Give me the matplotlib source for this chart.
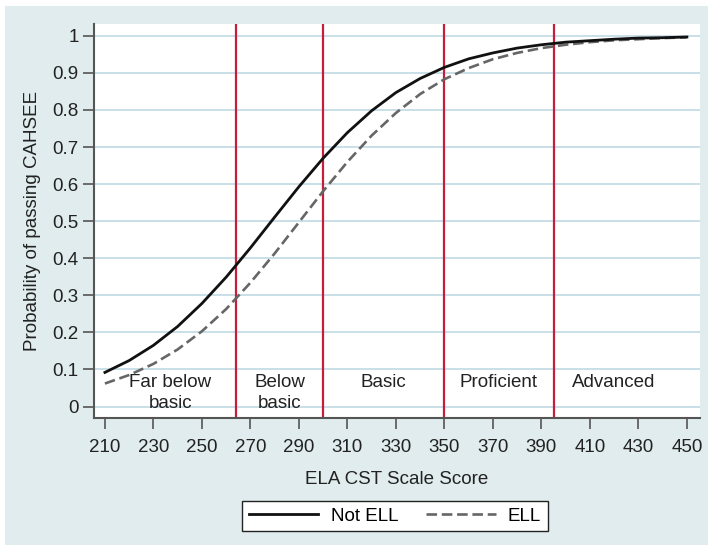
"""Probability of passing CAHSEE by ELA CST scale score, ELL vs not ELL."""

import matplotlib

matplotlib.use("Agg")
import matplotlib.pyplot as plt
from matplotlib.patches import Rectangle

plt.rcParams["font.family"] = ["Liberation Sans", "DejaVu Sans"]

# values
scores = [210, 220, 230, 240, 250, 260, 270, 280, 290, 300, 310, 320, 330,
          340, 350, 360, 370, 380, 390, 400, 410, 420, 430, 440, 450]
p_not_ell = [0.092, 0.124, 0.165, 0.216, 0.278, 0.349, 0.428, 0.511, 0.593,
             0.670, 0.739, 0.798, 0.847, 0.885, 0.915, 0.938, 0.954, 0.967,
             0.976, 0.983, 0.987, 0.991, 0.994, 0.995, 0.997]
p_ell = [0.062, 0.085, 0.115, 0.154, 0.203, 0.263, 0.334, 0.413, 0.497,
         0.581, 0.660, 0.731, 0.792, 0.843, 0.883, 0.913, 0.937, 0.954,
         0.967, 0.976, 0.983, 0.988, 0.991, 0.994, 0.996]

cut_scores = [264, 300, 350, 395]
band_labels = ["Far below\nbasic", "Below\nbasic", "Basic", "Proficient", "Advanced"]
band_centers = [237, 282, 325, 372.5, 420]

x_ticks = list(range(210, 451, 20))
y_ticks = [0, 0.1, 0.2, 0.3, 0.4, 0.5, 0.6, 0.7, 0.8, 0.9, 1]
y_tick_labels = ["0", "0.1", "0.2", "0.3", "0.4", "0.5", "0.6", "0.7", "0.8", "0.9", "1"]

BG = "#e0eced"
GRID = "#c6dce6"
RED = "#c41e3a"
SPINE = "#555555"
TXT = "#222222"
FS = 13.5

fig = plt.figure(figsize=(7.08, 5.45), dpi=100, facecolor="white")
W, H = 708, 545
fig.patches.append(Rectangle((5 / W, 0), 1 - 5 / W, 1 - 6 / H, transform=fig.transFigure,
                             facecolor=BG, edgecolor="none", zorder=-10))

ax = fig.add_axes([94 / W, 1 - 418 / H, (700 - 94) / W, (418 - 24) / H])
ax.set_facecolor("white")

for y in y_ticks:
    ax.axhline(y, color=GRID, lw=1.3, zorder=1)
for c in cut_scores:
    ax.axvline(c, color=RED, lw=1.6, zorder=2)

ax.plot(scores, p_not_ell, color="#111111", lw=2.0, label="Not ELL", zorder=4,
        solid_joinstyle="round")
ax.plot(scores, p_ell, color="#666666", lw=1.9, ls=(0, (4.0, 1.8)), label="ELL", zorder=3)

for x, lab in zip(band_centers, band_labels):
    ax.text(x, 0.088, lab, ha="center", va="top", fontsize=FS, color=TXT,
            linespacing=1.35, zorder=5)

ax.set_xlim(205.5, 455.4)
ax.set_ylim(-0.031, 1.032)
ax.set_xticks(x_ticks)
ax.set_yticks(y_ticks)
ax.set_yticklabels(y_tick_labels)
ax.tick_params(axis="both", labelsize=FS, colors=SPINE, labelcolor=TXT,
               length=8, width=1.2, pad=3)
ax.tick_params(axis="x", pad=7)

for side in ("top", "right"):
    ax.spines[side].set_visible(False)
for side in ("left", "bottom"):
    ax.spines[side].set_color(SPINE)
    ax.spines[side].set_linewidth(1.5)

ax.set_xlabel("ELA CST Scale Score", fontsize=FS, color=TXT, labelpad=11)
ax.set_ylabel("Probability of passing CAHSEE", fontsize=FS, color=TXT, labelpad=8)

leg = fig.legend(loc="center", bbox_to_anchor=(395 / W, 1 - 516 / H), ncol=2,
                 fontsize=FS, frameon=True, fancybox=False, handlelength=3.7,
                 columnspacing=1.5, handletextpad=0.65, borderpad=0.35,
                 borderaxespad=0)
leg.get_frame().set_edgecolor("#222222")
leg.get_frame().set_linewidth(1.0)
leg.get_frame().set_facecolor("white")
leg.get_frame().set_alpha(1)

fig.savefig("out.png", dpi=100, facecolor=fig.get_facecolor())
